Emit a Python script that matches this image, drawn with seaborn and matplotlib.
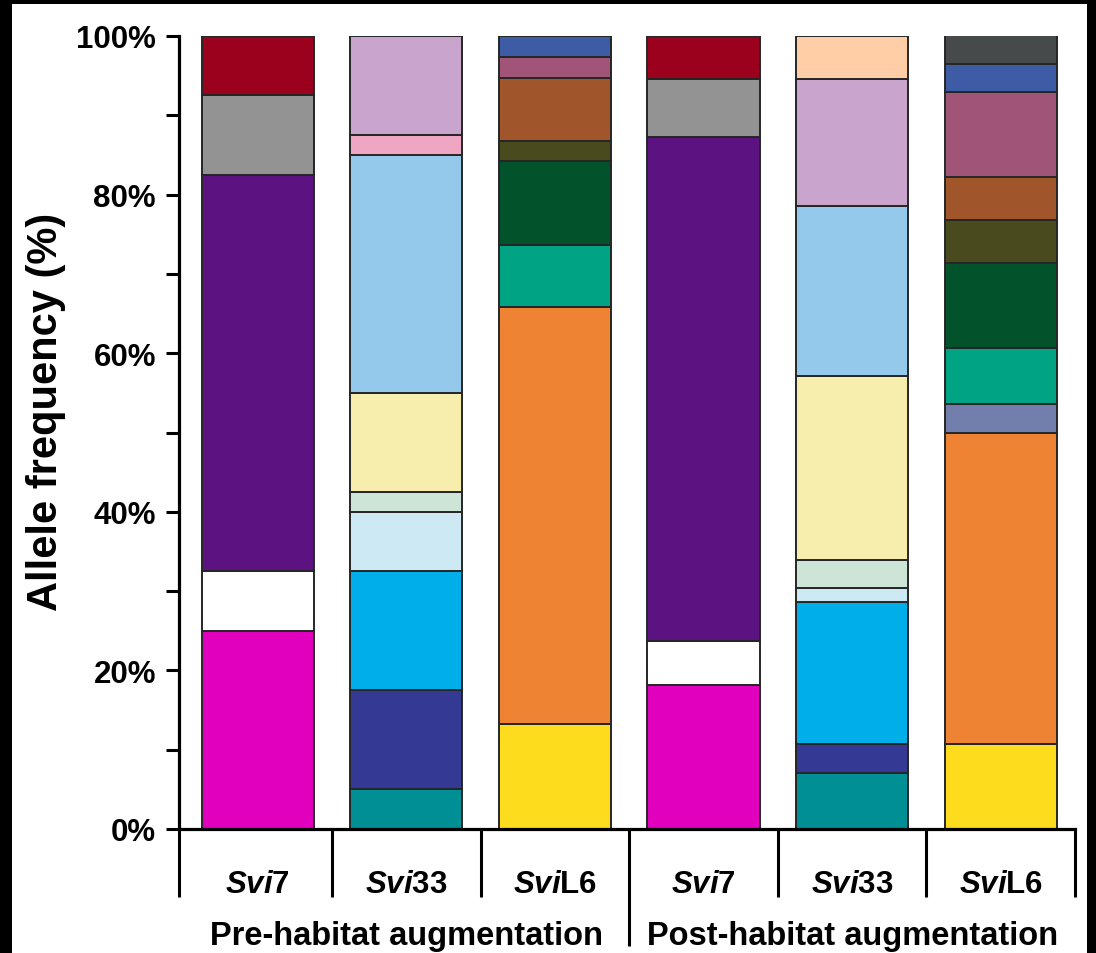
import matplotlib
matplotlib.use("Agg")
import matplotlib.pyplot as plt
import matplotlib.transforms as mtransforms
from matplotlib.patches import Rectangle
from matplotlib.ticker import MultipleLocator, FuncFormatter
import seaborn as sns

# ---- data -------------------------------------------------------------
columns = ["pre_Svi7", "pre_Svi33", "pre_SviL6", "post_Svi7", "post_Svi33", "post_SviL6"]
locus_labels = [r"$\mathit{Svi}$7", r"$\mathit{Svi}$33", r"$\mathit{Svi}$L6",
                r"$\mathit{Svi}$7", r"$\mathit{Svi}$33", r"$\mathit{Svi}$L6"]
group_labels = ["Pre-habitat augmentation", "Post-habitat augmentation"]

# allele frequencies (%), listed from the bottom of each bar to the top
pre_svi7 = [25.0, 7.5, 50.0, 10.0, 7.5]
pre_svi33 = [5.0, 12.5, 15.0, 7.5, 2.5, 12.5, 30.0, 2.5, 12.5]
pre_svil6 = [13.2, 52.6, 7.9, 10.5, 2.6, 7.9, 2.6, 2.7]
post_svi7 = [18.2, 5.5, 63.6, 7.3, 5.4]
post_svi33 = [7.1, 3.6, 17.9, 1.8, 3.5, 23.2, 21.4, 16.1, 5.4]
post_svil6 = [10.7, 39.3, 3.6, 7.1, 10.7, 5.4, 5.4, 10.7, 3.6, 4.1]

# allele colours, same order as the frequencies
pre_svi7_colors = ["#E000BD", "#FFFFFF", "#5C1280", "#939393", "#9B001C"]
pre_svi33_colors = ["#008F94", "#343A93", "#00AEEA", "#CDE9F4", "#CCE5D7",
                    "#F7EEAE", "#94C9EC", "#EEA6C3", "#C9A5CD"]
pre_svil6_colors = ["#FDDC1E", "#EE8333", "#00A383", "#02522C", "#4A4A1F",
                    "#A0552B", "#A05478", "#3E5CA6"]
post_svi7_colors = ["#E000BD", "#FFFFFF", "#5C1280", "#939393", "#9B001C"]
post_svi33_colors = ["#008F94", "#343A93", "#00AEEA", "#CDE9F4", "#CCE5D7",
                     "#F7EEAE", "#94C9EC", "#C9A5CD", "#FFCDA6"]
post_svil6_colors = ["#FDDC1E", "#EE8333", "#727EAB", "#00A383", "#02522C",
                     "#4A4A1F", "#A0552B", "#A05478", "#3E5CA6", "#464A4B"]

frequencies = [pre_svi7, pre_svi33, pre_svil6, post_svi7, post_svi33, post_svil6]
colours = [pre_svi7_colors, pre_svi33_colors, pre_svil6_colors,
           post_svi7_colors, post_svi33_colors, post_svil6_colors]

# ---- style ------------------------------------------------------------
sns.set_style("ticks")
plt.rcParams["font.family"] = ["Liberation Sans", "DejaVu Sans"]
plt.rcParams["font.weight"] = "bold"
plt.rcParams["text.color"] = "black"
plt.rcParams["ytick.color"] = "black"
plt.rcParams["ytick.labelcolor"] = "black"
plt.rcParams["mathtext.fontset"] = "custom"
plt.rcParams["mathtext.it"] = "Liberation Sans:italic:bold"
plt.rcParams["mathtext.rm"] = "Liberation Sans:bold"
plt.rcParams["mathtext.bf"] = "Liberation Sans:bold"

W, H = 1096, 954
fig = plt.figure(figsize=(W / 100, H / 100), dpi=100)
fig.patch.set_facecolor("white")
ax = fig.add_axes([179 / W, 1 - 830 / H, (1075 - 179) / W, (830 - 37) / H])

# ---- stacked bars -----------------------------------------------------
for col, vals, cols in zip(columns, frequencies, colours):
    base = 0.0
    for v, c in zip(vals, cols):
        sns.barplot(x=[col], y=[v], order=columns, bottom=base, color=c,
                    saturation=1, width=0.755, errorbar=None,
                    edgecolor="#262626", linewidth=1.4, ax=ax)
        base += v

ax.set_xlim(-0.53, 5.5)
ax.set_ylim(0, 100)

# ---- axes ----------------------------------------------------------------
for s in ["top", "right"]:
    ax.spines[s].set_visible(False)
for s in ["left", "bottom"]:
    ax.spines[s].set_linewidth(2.3)
    ax.spines[s].set_color("black")

ax.yaxis.set_major_locator(MultipleLocator(20))
ax.yaxis.set_minor_locator(MultipleLocator(10))
ax.yaxis.set_major_formatter(FuncFormatter(lambda v, p: f"{v:.0f}%"))
ax.tick_params(axis="y", which="both", length=9.5, width=2.2, color="black",
               direction="out", pad=7)
ax.tick_params(axis="y", which="major", labelsize=22.5, labelcolor="black")
for lab in ax.get_yticklabels():
    lab.set_fontweight("bold")

ax.set_xticks([])
ax.set_xlabel("")
ax.set_ylabel("")

# separators and labels beneath the baseline
span = 830 - 37
trans = mtransforms.blended_transform_factory(ax.transData, ax.transAxes)
for xs in [-0.53, 0.5, 1.5, 3.5, 4.5, 5.5]:
    ax.plot([xs, xs], [0, -68 / span], transform=trans, color="black", lw=2.2,
            clip_on=False, solid_capstyle="butt")
ax.plot([2.5, 2.5], [0, -117 / span], transform=trans, color="black",
        lw=2.2, clip_on=False, solid_capstyle="butt")

for i, lab in enumerate(locus_labels):
    ax.text(i, -55 / span, lab, transform=trans, ha="center", va="center",
            fontsize=22.5, fontweight="bold", color="black")
for xc, lab in zip([1.0, 4.0], group_labels):
    ax.text(xc, -107 / span, lab, transform=trans, ha="center",
            va="center", fontsize=23.5, fontweight="bold", color="black")

fig.text(46 / W, 1 - 412 / H, "Allele frequency (%)", rotation=90,
         ha="center", va="center", fontsize=30, fontweight="bold",
         color="black")

# dark border strips along the frame edges
for x0, y0, w, h in [(0, 0, 12 / W, 1), (0, 1 - 5 / H, 1, 5 / H),
                     (1 - 9 / W, 0, 9 / W, 1)]:
    fig.patches.append(Rectangle((x0, y0), w, h, transform=fig.transFigure,
                                 facecolor="black", edgecolor="none", zorder=10))

fig.savefig("out.png", dpi=100, facecolor="white")
